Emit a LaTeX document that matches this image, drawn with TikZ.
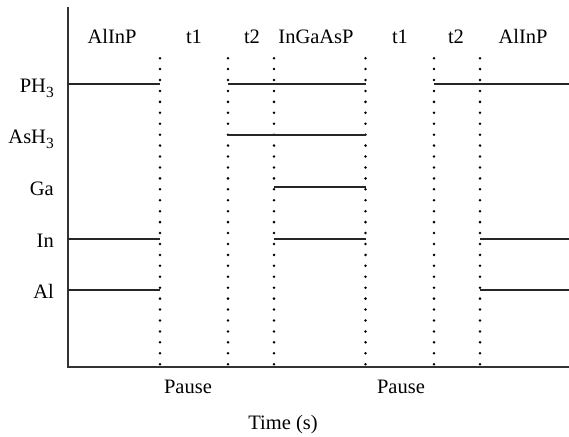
\documentclass[tikz,border=0pt]{standalone}
\usepackage{fontspec}
\setmainfont{Liberation Serif}
\newcommand{\subthree}{\raisebox{-5pt}{\fontsize{15.5}{16}\selectfont 3}}
\begin{document}
\begin{tikzpicture}[x=1pt,y=-1pt,
  lbl/.style={font=\fontsize{20.5}{21}\selectfont, inner sep=0pt},
  rowlbl/.style={lbl, anchor=base east},
  toplbl/.style={lbl, anchor=base},
  sig/.style={line width=1.1pt, black!85},
  axis/.style={line width=1.4pt, black!80},
  dotline/.style={line width=2.8pt, line cap=round, dash pattern=on 0pt off 10.93pt}]
\useasboundingbox (0,0) rectangle (569,436);
% axes
\coordinate (top) at (68,7);
\coordinate (origin) at (68,367);
\coordinate (xend) at (569,367);
\draw[axis] (top) -- (origin) -- (xend);
% dotted separators
\foreach \x/\n in {160/d1,228/d2,274/d3,365.5/d4,434/d5,480/d6}{
  \coordinate (\n b) at (\x,364.2);
  \coordinate (\n t) at (\x,58);
  \draw[dotline] (\n b) -- (\n t);
}
% row labels
\node[rowlbl] (lph) at (54,92) {PH\subthree};
\node[rowlbl] (las) at (54,143) {AsH\subthree};
\node[rowlbl] (lga) at (54,195) {Ga};
\node[rowlbl] (lin) at (54,247) {In};
\node[rowlbl] (lal) at (54,298) {Al};
% top labels
\node[toplbl] (s1) at (112,43.5) {AlInP};
\node[toplbl] (s2) at (194,43.5) {t1};
\node[toplbl] (s3) at (252,43.5) {t2};
\node[toplbl] (s4) at (316,43.5) {InGaAsP};
\node[toplbl] (s5) at (400,43.5) {t1};
\node[toplbl] (s6) at (456,43.5) {t2};
\node[toplbl] (s7) at (523,43.5) {AlInP};
% bottom labels
\node[toplbl] (p1) at (188,393.5) {Pause};
\node[toplbl] (p2) at (401,393.5) {Pause};
\node[toplbl] (tx) at (283,429) {Time (s)};
% signals
\draw[sig] (68,84) -- (160,84);
\draw[sig] (228,84) -- (365.5,84);
\draw[sig] (434,84) -- (569,84);
\draw[sig] (228,135) -- (365.5,135);
\draw[sig] (274,187) -- (365.5,187);
\draw[sig] (68,239) -- (160,239);
\draw[sig] (274,239) -- (365.5,239);
\draw[sig] (480,239) -- (569,239);
\draw[sig] (68,290) -- (160,290);
\draw[sig] (480,290) -- (569,290);
\end{tikzpicture}
\end{document}
